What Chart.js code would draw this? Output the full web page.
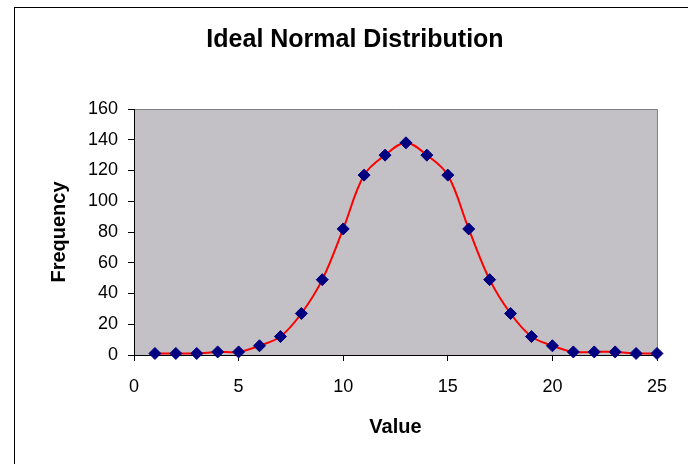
<!DOCTYPE html>
<html>
<head>
<meta charset="utf-8">
<script src="https://cdn.jsdelivr.net/npm/chart.js@4"></script>
<style>
  body { margin: 0; background: #fff; }
  canvas { display: block; }
</style>
</head>
<body>
<canvas id="chart" width="688" height="464"></canvas>
<script>
// Datos
const values = [1, 2, 3, 4, 5, 6, 7, 8, 9, 10, 11, 12, 13, 14, 15, 16, 17, 18, 19, 20, 21, 22, 23, 24, 25];
const frequency = [1, 1, 1, 2, 2, 6, 12, 27, 49, 82, 117, 130, 138, 130, 117, 82, 49, 27, 12, 6, 2, 2, 2, 1, 1];
const xTicks = [0, 5, 10, 15, 20, 25];
const yTicks = [0, 20, 40, 60, 80, 100, 120, 140, 160];

const points = values.map((v, i) => ({ x: v, y: frequency[i] }));

// Fondo gris del área y marco exterior
const plotBackground = {
    id: 'plotBackground',
    beforeDraw(chart) {
        const { ctx, chartArea: a } = chart;
        ctx.save();
        ctx.strokeStyle = '#000';
        ctx.lineWidth = 1;
        ctx.strokeRect(14.5, 7.5, 720, 520);
        ctx.fillStyle = '#c3c1c5';
        ctx.fillRect(a.left, a.top, a.right - a.left, a.bottom - a.top);
        ctx.strokeStyle = '#808080';
        ctx.beginPath();
        ctx.moveTo(a.left, a.top + 0.5);
        ctx.lineTo(a.right + 0.5, a.top + 0.5);
        ctx.lineTo(a.right + 0.5, a.bottom);
        ctx.stroke();
        ctx.restore();
    }
};

new Chart(document.getElementById('chart'), {
    type: 'line',
    data: {
        datasets: [{
            data: points,
            borderColor: '#ff0000',
            borderWidth: 2,
            tension: 0.35,
            pointStyle: 'rectRot',
            pointRadius: 6,
            pointBackgroundColor: '#000080',
            pointBorderColor: '#000080',
            pointBorderWidth: 1,
            clip: false
        }]
    },
    options: {
        responsive: false,
        animation: false,
        layout: { padding: { left: 53, right: 31, top: 0, bottom: 0 } },
        plugins: {
            legend: { display: false },
            tooltip: { enabled: false },
            title: {
                display: true,
                text: 'Ideal Normal Distribution',
                color: '#000',
                font: { family: 'Liberation Sans, Arial, sans-serif', size: 25, weight: 'bold' },
                padding: { top: 25, bottom: 54 }
            }
        },
        scales: {
            x: {
                type: 'linear',
                min: 0,
                max: 25,
                afterBuildTicks: s => { s.ticks = xTicks.map(v => ({ value: v })); },
                afterFit: s => { s.height = 109; },
                ticks: {
                    color: '#000',
                    padding: 15,
                    font: { family: 'Liberation Sans, Arial, sans-serif', size: 18 }
                },
                grid: { drawOnChartArea: false, color: '#000', tickLength: 6 },
                border: { color: '#000', width: 1 },
                title: {
                    display: true,
                    text: 'Value',
                    color: '#000',
                    font: { family: 'Liberation Sans, Arial, sans-serif', size: 20, weight: 'bold' },
                    padding: { top: 0, bottom: 25 }
                }
            },
            y: {
                min: 0,
                max: 160,
                afterBuildTicks: s => { s.ticks = yTicks.map(v => ({ value: v })); },
                afterFit: s => { s.width = 81; },
                ticks: {
                    color: '#000',
                    padding: 10,
                    font: { family: 'Liberation Sans, Arial, sans-serif', size: 18 }
                },
                grid: { drawOnChartArea: false, color: '#000', tickLength: 6 },
                border: { color: '#000', width: 1 },
                title: {
                    display: true,
                    text: 'Frequency',
                    color: '#000',
                    font: { family: 'Liberation Sans, Arial, sans-serif', size: 20, weight: 'bold' },
                    padding: { top: -6, bottom: 0 }
                }
            }
        }
    },
    plugins: [plotBackground]
});
</script>
</body>
</html>
